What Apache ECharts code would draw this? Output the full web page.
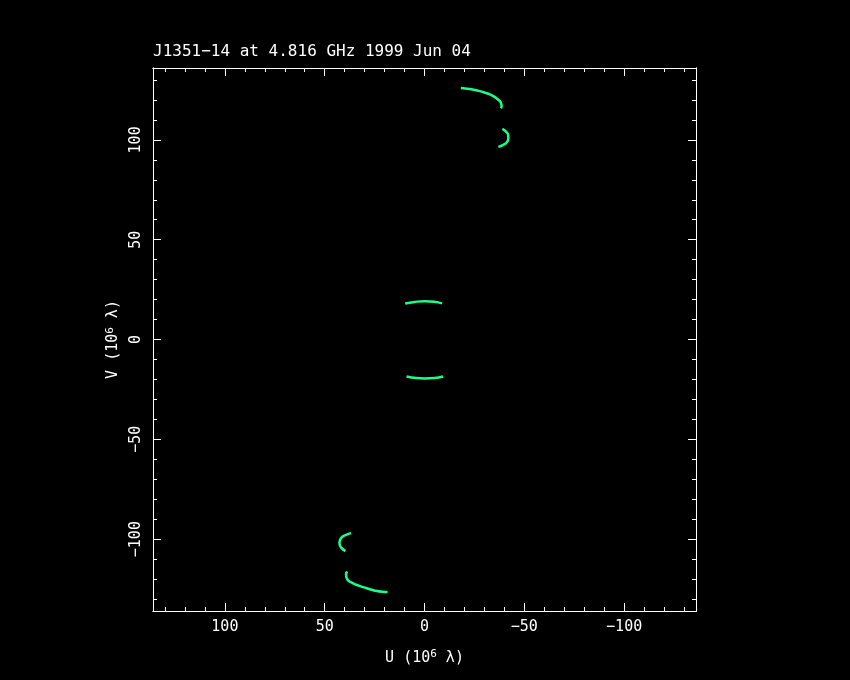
<!DOCTYPE html>
<html><head><meta charset="utf-8">
<script src="https://cdn.jsdelivr.net/npm/echarts@6/dist/echarts.min.js"></script>
<style>html,body{margin:0;padding:0;background:#000;}#c{width:850px;height:680px;}</style>
</head><body><div id="c"></div>
<script>
const titleText = 'J1351\u221214 at 4.816 GHz 1999 Jun 04';
const uName = '{n|U (10}{s|6}{n| \u03bb)}';
const vName = '{n|V (10}{s|6}{n| \u03bb)}';
const axisMin = -136, axisMax = 136;
const majorTicks = [-100, -50, 0, 50, 100];
const minorTicks = [-130,-120,-110,-90,-80,-70,-60,-40,-30,-20,-10,10,20,30,40,60,70,80,90,110,120,130];

// uv tracks [U, V] in 10^6 lambda
const track1 = [[-18.2,126.0],[-22.4,125.5],[-26.5,124.7],[-30.7,123.5],[-34.0,122.2],[-36.5,120.5],[-38.2,118.8],[-38.6,116.8],[-38.3,115.8]];
const track2 = [[-39.0,105.5],[-40.7,104.2],[-41.9,102.5],[-42.0,100.8],[-41.2,98.8],[-39.5,97.5],[-37.0,96.5]];
const track3 = [[9.7,18.0],[5.0,18.8],[0.0,19.2],[-5.0,18.9],[-8.8,18.1]];
const track4 = [[9.0,-18.5],[4.0,-19.3],[0.0,-19.5],[-5.0,-19.3],[-9.3,-18.5]];
const track5 = [[36.8,-97.0],[39.3,-97.9],[41.0,-98.7],[42.1,-100.0],[42.6,-101.7],[42.3,-103.4],[41.3,-104.7],[39.6,-106.0]];
const track6 = [[38.8,-116.2],[39.3,-117.9],[38.5,-120.4],[36.0,-122.0],[32.7,-123.4],[29.3,-124.5],[25.2,-125.7],[21.0,-126.4],[18.5,-126.5]];
const tracks = [track1, track2, track3, track4, track5, track6];

const white = '#ffffff';
const green = '#19ff8c';
const fontFam = 'DejaVu Sans Mono';
const fmt = v => v < 0 ? '\u2212' + (-v) : String(v);
const gridRect = {left: 153, top: 68, width: 543, height: 543};

function mkAxis(dim, gridIndex, position, ticks, len, withLabels, name) {
  const a = {
    type: 'value', gridIndex: gridIndex, position: position,
    min: axisMin, max: axisMax,
    inverse: dim === 'x',
    axisLine: {show: true, onZero: false, lineStyle: {color: white, width: 1}},
    axisTick: {show: true, inside: true, length: len, customValues: ticks, lineStyle: {color: white, width: 1}},
    splitLine: {show: false},
    axisLabel: {show: false}
  };
  if (withLabels) {
    a.axisLabel = {
      show: true, customValues: majorTicks, formatter: fmt,
      color: white, fontFamily: fontFam, fontSize: 15, margin: 9,
      rotate: dim === 'y' ? 90 : 0
    };
    a.name = name;
    a.nameLocation = 'middle';
    a.nameGap = dim === 'x' ? 38 : 30;
    a.nameTextStyle = {color: white, fontFamily: fontFam, fontSize: 15,
      rich: {
        n: {color: white, fontFamily: fontFam, fontSize: 15},
        s: {color: white, fontFamily: fontFam, fontSize: 11, verticalAlign: 'bottom', padding: [0, 0, 7, 0]}
      }};
  }
  return a;
}

const chart = echarts.init(document.getElementById('c'), null, {renderer: 'canvas'});
chart.setOption({
  backgroundColor: '#000000',
  animation: false,
  title: {text: titleText, left: 153, top: 44, padding: 0,
    textStyle: {color: white, fontFamily: fontFam, fontSize: 16, fontWeight: 'normal'}},
  grid: [Object.assign({}, gridRect), Object.assign({}, gridRect)],
  xAxis: [
    mkAxis('x', 0, 'bottom', majorTicks, 8, true, uName),
    mkAxis('x', 0, 'top', majorTicks, 8, false),
    mkAxis('x', 1, 'bottom', minorTicks, 4, false),
    mkAxis('x', 1, 'top', minorTicks, 4, false)
  ],
  yAxis: [
    mkAxis('y', 0, 'left', majorTicks, 8, true, vName),
    mkAxis('y', 0, 'right', majorTicks, 8, false),
    mkAxis('y', 1, 'left', minorTicks, 4, false),
    mkAxis('y', 1, 'right', minorTicks, 4, false)
  ],
  series: tracks.map(t => ({
    type: 'line', xAxisIndex: 0, yAxisIndex: 0, data: t,
    smooth: true, showSymbol: false, symbol: 'none',
    lineStyle: {color: green, width: 2.5}
  }))
});
</script></body></html>
